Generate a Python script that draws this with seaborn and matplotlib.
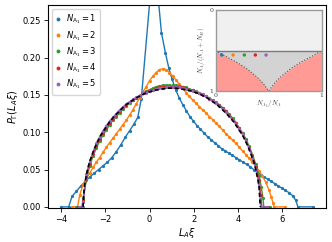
import numpy as np
import pandas as pd
import seaborn as sns

import matplotlib
matplotlib.use("Agg")
import matplotlib.pyplot as plt

# N_A1 = 1
x_n1 = [-4.0, -3.65, -3.5, -3.3, -3.1, -2.9, -2.7, -2.5, -2.3, -2.1,
        -1.9, -1.7, -1.5, -1.3, -1.1, -0.9, -0.7, -0.53, -0.37, 0.2,
        0.54, 0.72, 0.87, 1.02, 1.18, 1.34, 1.5, 1.66, 1.82, 1.98,
        2.14, 2.3, 2.46, 2.62, 2.78, 2.94, 3.1, 3.26, 3.42, 3.58,
        3.74, 3.9, 4.06, 4.22, 4.38, 4.54, 4.7, 4.86, 5.02, 5.18,
        5.34, 5.5, 5.66, 5.82, 5.98, 6.14, 6.3, 6.46, 6.6, 6.7, 7.4]
y_n1 = [0.0, 0.0, 0.014, 0.021, 0.028, 0.034, 0.040, 0.045, 0.050, 0.055,
        0.060, 0.066, 0.074, 0.083, 0.093, 0.102, 0.111, 0.120, 0.145, 0.34,
        0.233, 0.206, 0.186, 0.171, 0.157, 0.146, 0.137, 0.129, 0.121, 0.115,
        0.109, 0.104, 0.099, 0.094, 0.090, 0.086, 0.082, 0.078, 0.075, 0.072,
        0.069, 0.066, 0.063, 0.060, 0.057, 0.054, 0.050, 0.047, 0.043, 0.040,
        0.037, 0.034, 0.031, 0.028, 0.025, 0.022, 0.019, 0.015, 0.009, 0.0, 0.0]

# N_A1 = 2
x_n2 = [-3.5, -3.25, -3.15, -3.0, -2.85, -2.7, -2.55, -2.4, -2.25, -2.1,
        -1.95, -1.8, -1.65, -1.5, -1.35, -1.2, -1.05, -0.9, -0.75, -0.6,
        -0.45, -0.3, -0.15, 0.0, 0.15, 0.3, 0.45, 0.6, 0.75, 0.9,
        1.05, 1.2, 1.35, 1.5, 1.65, 1.8, 1.95, 2.1, 2.25, 2.4,
        2.55, 2.7, 2.85, 3.0, 3.15, 3.3, 3.45, 3.6, 3.75, 3.9,
        4.05, 4.2, 4.35, 4.5, 4.65, 4.8, 4.95, 5.1, 5.25, 5.4,
        5.5, 5.58, 5.62, 6.13]
y_n2 = [0.0, 0.0, 0.016, 0.030, 0.038, 0.045, 0.053, 0.060, 0.066, 0.073,
        0.080, 0.086, 0.092, 0.098, 0.104, 0.110, 0.116, 0.123, 0.130, 0.138,
        0.146, 0.154, 0.161, 0.169, 0.175, 0.180, 0.184, 0.185, 0.184, 0.180,
        0.175, 0.170, 0.164, 0.159, 0.153, 0.148, 0.143, 0.139, 0.134, 0.130,
        0.126, 0.121, 0.117, 0.112, 0.108, 0.103, 0.098, 0.094, 0.089, 0.085,
        0.080, 0.075, 0.070, 0.065, 0.060, 0.055, 0.048, 0.041, 0.033, 0.022,
        0.013, 0.005, 0.0, 0.0]

# shared grid for N_A1 = 3, 4, 5
x_mid = [-3.0, -2.85, -2.7, -2.55, -2.4, -2.25, -2.1, -1.95, -1.8, -1.65,
         -1.5, -1.35, -1.2, -1.05, -0.9, -0.75, -0.6, -0.45, -0.3, -0.15,
         0.0, 0.15, 0.3, 0.45, 0.6, 0.75, 0.9, 1.05, 1.2, 1.35,
         1.5, 1.65, 1.8, 1.95, 2.1, 2.25, 2.4, 2.55, 2.7, 2.85,
         3.0, 3.15, 3.3, 3.45, 3.6, 3.75, 3.9, 4.05, 4.2, 4.35,
         4.5, 4.65, 4.8, 4.95]

x_n3 = [-3.3, -3.05] + x_mid + [5.05, 5.12, 5.16, 5.45]
y_n3 = [0.0, 0.0,
        0.012, 0.036, 0.055, 0.068, 0.079, 0.088, 0.096, 0.103, 0.110, 0.116,
        0.121, 0.126, 0.131, 0.135, 0.139, 0.143, 0.146, 0.149, 0.152, 0.155,
        0.157, 0.159, 0.161, 0.162, 0.163, 0.163, 0.163, 0.163, 0.163, 0.162,
        0.161, 0.160, 0.158, 0.156, 0.155, 0.153, 0.151, 0.148, 0.146, 0.143,
        0.140, 0.137, 0.133, 0.129, 0.124, 0.119, 0.113, 0.106, 0.099, 0.091,
        0.081, 0.070, 0.057, 0.041,
        0.026, 0.012, 0.0, 0.0]

x_n4 = [-3.25, -3.03] + x_mid + [5.02, 5.07, 5.35]
y_n4 = [0.0, 0.0,
        0.009, 0.040, 0.058, 0.071, 0.082, 0.091, 0.099, 0.106, 0.112, 0.118,
        0.123, 0.128, 0.132, 0.136, 0.140, 0.143, 0.146, 0.149, 0.152, 0.154,
        0.156, 0.157, 0.159, 0.160, 0.161, 0.161, 0.161, 0.161, 0.161, 0.161,
        0.160, 0.159, 0.157, 0.156, 0.154, 0.152, 0.150, 0.148, 0.145, 0.142,
        0.139, 0.136, 0.132, 0.128, 0.123, 0.117, 0.112, 0.105, 0.098, 0.089,
        0.079, 0.068, 0.054, 0.036,
        0.016, 0.0, 0.0]

x_n5 = [-3.2, -3.02] + x_mid + [5.02, 5.3]
y_n5 = [0.0, 0.0,
        0.006, 0.044, 0.061, 0.074, 0.085, 0.094, 0.102, 0.109, 0.115, 0.120,
        0.125, 0.130, 0.134, 0.138, 0.141, 0.144, 0.147, 0.149, 0.152, 0.153,
        0.155, 0.156, 0.158, 0.159, 0.159, 0.160, 0.160, 0.160, 0.160, 0.160,
        0.159, 0.158, 0.157, 0.155, 0.154, 0.152, 0.150, 0.148, 0.145, 0.142,
        0.139, 0.135, 0.131, 0.127, 0.122, 0.116, 0.111, 0.104, 0.097, 0.088,
        0.078, 0.066, 0.051, 0.030,
        0.0, 0.0]

# limiting curve (black dashed)
x_lim = [-3.0, -2.95, -2.9, -2.8, -2.7, -2.6, -2.5, -2.4, -2.2, -2.0,
         -1.8, -1.6, -1.4, -1.2, -1.0, -0.8, -0.6, -0.4, -0.2, 0.0,
         0.2, 0.4, 0.6, 0.8, 1.0, 1.2, 1.4, 1.6, 1.8, 2.0,
         2.2, 2.4, 2.6, 2.8, 3.0, 3.2, 3.4, 3.6, 3.8, 4.0,
         4.2, 4.4, 4.5, 4.6, 4.7, 4.8, 4.9, 4.95, 5.0]
y_lim = [0.0, 0.025, 0.035, 0.050, 0.061, 0.069, 0.077, 0.084, 0.096, 0.105,
         0.114, 0.121, 0.127, 0.133, 0.138, 0.142, 0.146, 0.149, 0.152, 0.154,
         0.156, 0.157, 0.158, 0.159, 0.159, 0.159, 0.158, 0.157, 0.156, 0.154,
         0.152, 0.149, 0.146, 0.142, 0.138, 0.133, 0.127, 0.121, 0.114, 0.105,
         0.096, 0.084, 0.077, 0.069, 0.061, 0.050, 0.035, 0.025, 0.0]

series = [(x_n1, y_n1), (x_n2, y_n2), (x_n3, y_n3), (x_n4, y_n4), (x_n5, y_n5)]
labels = [r"$N_{\mathrm{A}_1} = %d$" % n for n in [1, 2, 3, 4, 5]]
colors = sns.color_palette("tab10", 5)

# inset: phase diagram
bound_x = [0.0, 0.1, 0.2, 0.3, 0.4, 0.45, 0.5, 0.55, 0.6, 0.7, 0.8, 0.9, 1.0]
bound_y = [0.5, 0.575, 0.645, 0.73, 0.84, 0.91, 1.0, 0.91, 0.84, 0.73, 0.645, 0.575, 0.5]
dots_x = [0.057, 0.164, 0.27, 0.374, 0.475]
dots_y = [0.554, 0.554, 0.554, 0.554, 0.554]

fig = plt.figure(figsize=(3.32, 2.42), dpi=100)
ax = fig.add_axes([0.1455, 0.139, 0.8365, 0.839])

for (xs, ys), lab, c in zip(series, labels, colors):
    sns.lineplot(x=xs, y=ys, ax=ax, color=c, marker="o", markersize=2.3,
                 markeredgewidth=0, linewidth=1.0, label=lab,
                 estimator=None, sort=False)
sns.lineplot(x=x_lim, y=y_lim, ax=ax, color="k", linestyle=(0, (2.5, 1.5)),
             linewidth=1.2, estimator=None, sort=False, legend=False)

ax.set_xlim(-4.57, 7.97)
ax.set_ylim(-0.002, 0.27)
ax.set_xticks([-4, -2, 0, 2, 4, 6])
ax.set_yticks([0.0, 0.05, 0.10, 0.15, 0.20, 0.25])
ax.tick_params(labelsize=6, length=3, width=0.6, pad=2)
for s in ax.spines.values():
    s.set_linewidth(0.8)
ax.set_xlabel(r"$L_A\xi$", fontsize=7, labelpad=1)
ax.set_ylabel(r"$P_\Gamma(L_A\xi)$", fontsize=7, labelpad=2)

leg = ax.legend(loc="upper left", fontsize=6, handlelength=0.5,
                handletextpad=0.7, borderaxespad=0.5, labelspacing=0.32)
for h in leg.legend_handles:
    h.set_linestyle("none")
    h.set_markersize(2.8)

ins = fig.add_axes([0.6497, 0.624, 0.3193, 0.3335])
ins.axhspan(0, 0.5, color="#f0f0f0", lw=0)
ins.axhspan(0.5, 1, color="#ff9a94", lw=0)
ins.fill_between(bound_x, 0.5, bound_y, color="#d3d3d3", lw=0)
ins.plot(bound_x, bound_y, linestyle=":", color="#555555", lw=0.8)
ins.axhline(0.5, color="#7a7a7a", lw=1.0)
sns.scatterplot(x=dots_x, y=dots_y, hue=labels, palette=colors, ax=ins,
                s=6, linewidth=0, legend=False, zorder=5)
ins.set_xlim(0, 1)
ins.set_ylim(1, 0)
ins.set_xticks([0, 1])
ins.set_yticks([0, 1])
ins.tick_params(length=0, labelsize=4.5, pad=1.5, labelcolor="#444444")
for t in ins.get_xticklabels() + ins.get_yticklabels():
    t.set_family("serif")
for s in ins.spines.values():
    s.set_color("#9a9a9a")
    s.set_linewidth(1.0)
ins.set_xlabel(r"$N_{A_1}/N_A$", fontsize=5, labelpad=1, color="#444444",
               math_fontfamily="cm")
ins.set_ylabel(r"$N_A/(N_A+N_B)$", fontsize=5, labelpad=2, color="#444444",
               math_fontfamily="cm")

fig.savefig("out.png", dpi=100)
plt.close(fig)
